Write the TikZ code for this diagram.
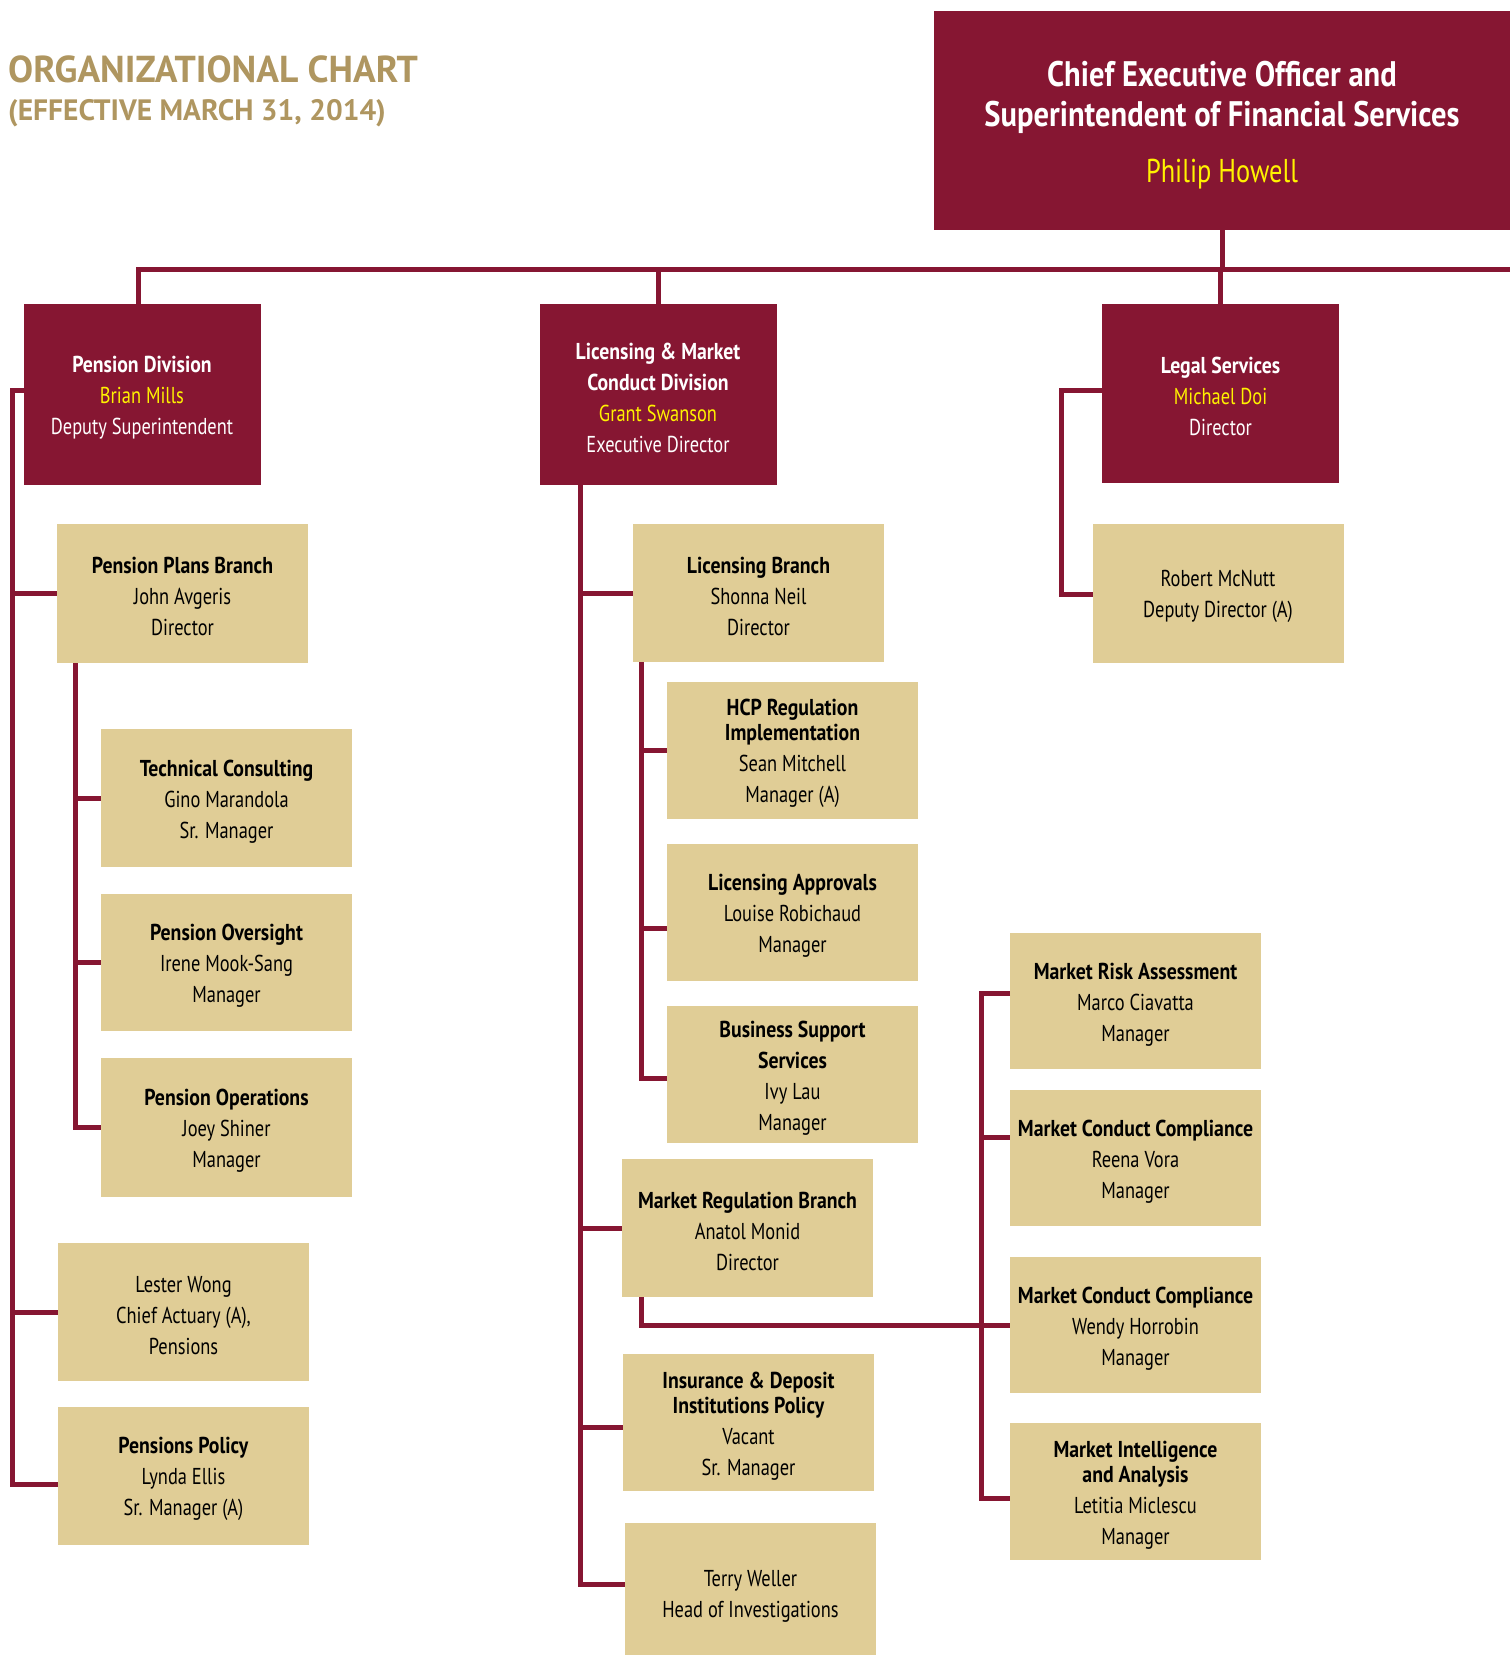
\documentclass[tikz,border=0pt]{standalone}
\usepackage{fontspec}
\setmainfont[FakeStretch=0.8, BoldFeatures={FakeStretch=0.86}]{PT Sans}
\newfontfamily\titlefont{PT Sans}
\definecolor{maroon}{HTML}{861632}
\definecolor{beige}{HTML}{E0CD96}
\definecolor{gold}{HTML}{AF9660}
\definecolor{yel}{HTML}{FFF200}
\tikzset{
  divbox/.style={fill=maroon, text=white, align=center, inner sep=0pt, outer sep=0pt,
    minimum width=237pt, minimum height=181pt, font=\fontsize{23}{31}\selectfont},
  subbox/.style={fill=beige, text=black, align=center, inner sep=0pt, outer sep=0pt,
    minimum width=251pt, minimum height=137pt, font=\fontsize{23}{31}\selectfont},
  conn/.style={draw=maroon, line width=5pt, line join=miter},
  ttl/.style={text=gold, anchor=base west, inner sep=0pt},
}
\newcommand{\nm}[1]{\textcolor{yel}{#1}}
\newcommand{\up}{\rule{0pt}{23pt}}
\begin{document}
\begin{tikzpicture}[x=1pt,y=-1pt]
\useasboundingbox (0,0) rectangle (1510,1655);
\clip (0,0) rectangle (1510,1655);

% title
\node[ttl, font=\titlefont\bfseries\fontsize{37.5}{42}\selectfont] (t1) at (8,82) {ORGANIZATIONAL CHART};
\node[ttl, font=\titlefont\bfseries\fontsize{29.5}{34}\selectfont] (t2) at (8,120) {(EFFECTIVE MARCH 31, 2014)};

% CEO
\node[divbox, minimum width=576pt, minimum height=219pt, font=\bfseries\fontsize{35.5}{40}\selectfont] (ceo) at (1222,120)
  {\rule{0pt}{36pt}Chief Executive Officer and\\ Superintendent of Financial Services\\[16pt]
   \mdseries\fontsize{33}{40}\selectfont\textcolor{yel}{Philip Howell}};

% divisions
\node[divbox] (pd) at (142,394.5)
  {\up\textbf{Pension Division}\\ \nm{Brian Mills}\\ Deputy Superintendent};
\node[divbox] (lmc) at (658,394.5)
  {\up\textbf{Licensing \& Market}\\ \textbf{Conduct Division}\\ \nm{Grant Swanson}\\ Executive Director};
\node[divbox, minimum height=179pt] (legal) at (1220.5,393.5)
  {\up\textbf{Legal Services}\\ \nm{Michael Doi}\\ Director};

% pension column
\node[subbox, minimum height=139pt] (ppb) at (182.5,593.5)
  {\up\textbf{Pension Plans Branch}\\ John Avgeris\\ Director};
\node[subbox, minimum height=138pt] (tc) at (226.5,798)
  {\up\textbf{Technical Consulting}\\ Gino Marandola\\ Sr. Manager};
\node[subbox, minimum height=137pt] (pov) at (226.5,962.5)
  {\up\textbf{Pension Oversight}\\ Irene Mook-Sang\\ Manager};
\node[subbox, minimum height=139pt] (po) at (226.5,1127.5)
  {\up\textbf{Pension Operations}\\ Joey Shiner\\ Manager};
\node[subbox, minimum height=138pt] (lw) at (183.5,1312)
  {\up Lester Wong\\ Chief Actuary (A),\\ Pensions};
\node[subbox, minimum height=138pt] (pp) at (183.5,1476)
  {\up\textbf{Pensions Policy}\\ Lynda Ellis\\ Sr. Manager (A)};

% licensing column
\node[subbox, minimum height=138pt] (lb) at (758.5,593)
  {\up\textbf{Licensing Branch}\\ Shonna Neil\\ Director};
\node[subbox, minimum height=137pt] (hcp) at (792.5,750.5)
  {\up\textbf{HCP Regulation}\\[-6pt] \textbf{Implementation}\\ Sean Mitchell\\ Manager (A)};
\node[subbox, minimum height=137pt] (la) at (792.5,912.5)
  {\up\textbf{Licensing Approvals}\\ Louise Robichaud\\ Manager};
\node[subbox, minimum height=137pt] (bss) at (792.5,1074.5)
  {\up\textbf{Business Support}\\ \textbf{Services}\\ Ivy Lau\\ Manager};
\node[subbox, minimum height=138pt] (mrb) at (747.5,1228)
  {\up\textbf{Market Regulation Branch}\\ Anatol Monid\\ Director};
\node[subbox, minimum height=137pt] (idp) at (748.5,1422.5)
  {\up\textbf{Insurance \& Deposit}\\[-6pt] \textbf{Institutions Policy}\\ Vacant\\ Sr. Manager};
\node[subbox, minimum height=140pt] (tw) at (750.5,1593)
  {\up Terry Weller\\ Head of Investigations};

% legal column
\node[subbox, minimum height=139pt] (rob) at (1218,593.5)
  {\up Robert McNutt\\ Deputy Director (A)};

% market column
\node[subbox, minimum height=136pt] (mra) at (1135.5,1001)
  {\up\textbf{Market Risk Assessment}\\ Marco Ciavatta\\ Manager};
\node[subbox, minimum height=136pt] (cc1) at (1135.5,1158)
  {\up\textbf{Market Conduct Compliance}\\ Reena Vora\\ Manager};
\node[subbox, minimum height=136pt] (cc2) at (1135.5,1325)
  {\up\textbf{Market Conduct Compliance}\\ Wendy Horrobin\\ Manager};
\node[subbox, minimum height=137pt] (mia) at (1135.5,1491.5)
  {\up\textbf{Market Intelligence}\\[-6pt] \textbf{and Analysis}\\ Letitia Miclescu\\ Manager};

% ---------- connectors ----------
\coordinate (busL) at (138,269);
\coordinate (busR) at (1515,269);
\draw[conn] (ceo.south) -- (ceo.south |- busL);
\draw[conn] (busR) -- (busL) -- (busL |- pd.north);
\draw[conn] (lmc.north |- busL) -- (lmc.north);
\draw[conn] (legal.north |- busL) -- (legal.north);

% pension
\coordinate (pvl) at (12,390);
\coordinate (pvb) at (12,1484);
\draw[conn] (pd.west |- pvl) -- (pvl) -- (pvb) -- (pvb -| pp.west);
\draw[conn] (pvl |- ppb.west) -- (ppb.west);
\draw[conn] (pvl |- lw.west) -- (lw.west);
\coordinate (pst) at (75,663);
\draw[conn] (pst) -- (pst |- po.west) -- (po.west);
\draw[conn] (pst |- tc.west) -- (tc.west);
\draw[conn] (pst |- pov.west) -- (pov.west);

% licensing
\coordinate (lvl) at (580,485);
\coordinate (lvb) at (580,1584);
\coordinate (lvi) at (580,1427);
\draw[conn] (lvl) -- (lvb) -- (lvb -| tw.west);
\draw[conn] (lvl |- lb.west) -- (lb.west);
\draw[conn] (lvl |- mrb.west) -- (mrb.west);
\draw[conn] (lvi) -- (lvi -| idp.west);
\coordinate (lst) at (641,662);
\coordinate (lsb) at (641,1078);
\coordinate (lsa) at (641,928);
\draw[conn] (lst) -- (lsb) -- (lsb -| bss.west);
\draw[conn] (lst |- hcp.west) -- (hcp.west);
\draw[conn] (lsa) -- (lsa -| la.west);

% market
\coordinate (mst) at (641,1297);
\coordinate (mcn) at (641,1325);
\draw[conn] (mst) -- (mcn) -- (mcn -| cc2.west);
\coordinate (mvt) at (981,993);
\coordinate (mvb) at (981,1498);
\coordinate (mc1) at (981,1137);
\draw[conn] (mvt -| mra.west) -- (mvt) -- (mvb) -- (mvb -| mia.west);
\draw[conn] (mc1) -- (mc1 -| cc1.west);

% legal
\coordinate (gl) at (1061,390);
\coordinate (gb) at (1061,594);
\draw[conn] (legal.west |- gl) -- (gl) -- (gb) -- (gb -| rob.west);
\end{tikzpicture}
\end{document}
